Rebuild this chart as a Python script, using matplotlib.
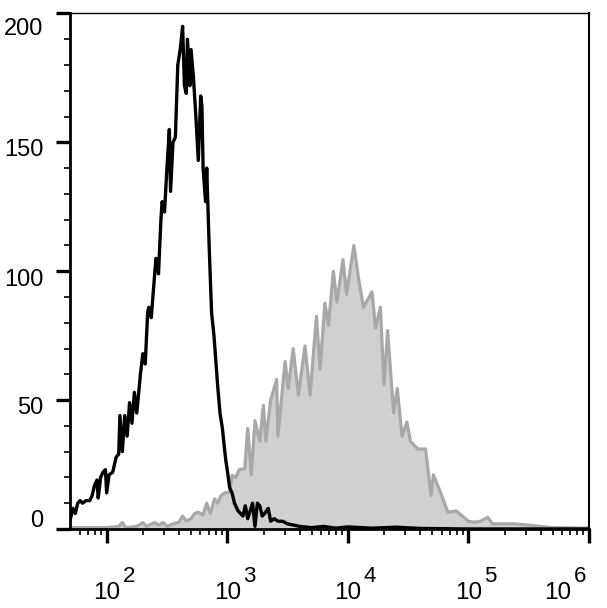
import numpy as np
import matplotlib
matplotlib.use("Agg")
import matplotlib.pyplot as plt
from matplotlib.ticker import LogLocator, MultipleLocator, NullFormatter

plt.rcParams["font.family"] = ["Liberation Sans", "DejaVu Sans"]

# black histogram (unstained / isotype), x given as log10 of intensity
black_log = [1.70, 1.72, 1.74, 1.76, 1.78, 1.80, 1.83, 1.86, 1.88, 1.90, 1.92, 1.93,
             1.95, 1.97, 1.99, 2.00, 2.02, 2.05, 2.08, 2.10, 2.11, 2.13, 2.15, 2.17,
             2.19, 2.21, 2.23, 2.25, 2.28, 2.30, 2.32, 2.34, 2.35, 2.37, 2.40, 2.41,
             2.43, 2.45, 2.46, 2.48, 2.50, 2.52, 2.53, 2.55, 2.57, 2.59, 2.61, 2.63,
             2.645, 2.66, 2.67, 2.69, 2.70, 2.72, 2.74, 2.76, 2.78, 2.79, 2.80, 2.82,
             2.83, 2.85, 2.87, 2.89, 2.92, 2.94, 2.96, 2.98, 2.99, 3.00, 3.02, 3.04,
             3.06, 3.09, 3.11, 3.13, 3.15, 3.17, 3.19, 3.21, 3.23, 3.25, 3.27, 3.29,
             3.31, 3.34, 3.36, 3.39, 3.42, 3.46, 3.50, 3.55, 3.60, 3.70, 3.80, 3.90,
             4.00, 4.20, 4.40, 4.60, 5.00, 5.50, 6.00]
black_counts = [4, 8, 6, 10, 11, 10, 11, 11, 13, 17, 19, 12,
                20, 22, 23, 14, 21, 22, 28, 29, 44, 30, 44, 36,
                49, 41, 53, 45, 60, 68, 64, 84, 86, 82, 100, 105,
                99, 120, 127, 123, 140, 155, 131, 150, 152, 180, 186, 195,
                172, 169, 190, 172, 186, 175, 160, 143, 168, 164, 140, 127,
                140, 110, 84, 75, 56, 45, 39, 30, 26, 23, 16, 14,
                10, 7, 6, 5, 9, 4, 7, 10, 1, 10, 9, 5,
                6, 8, 3, 4, 3, 3, 2, 1.5, 1, 0.5, 1, 0.3,
                0.8, 0.3, 0.7, 0.2, 0, 0, 0]

# gray filled histogram (stained)
gray_log = [1.70, 1.90, 2.00, 2.10, 2.13, 2.16, 2.25, 2.30, 2.33, 2.40, 2.43, 2.47,
            2.50, 2.55, 2.60, 2.63, 2.66, 2.70, 2.73, 2.76, 2.80, 2.83, 2.86, 2.895,
            2.92, 2.95, 2.98, 3.02, 3.04, 3.07, 3.10, 3.145, 3.17, 3.20, 3.23, 3.27,
            3.30, 3.32, 3.36, 3.41, 3.42, 3.48, 3.506, 3.547, 3.59, 3.645, 3.687, 3.74,
            3.77, 3.81, 3.84, 3.88, 3.91, 3.96, 3.99, 4.05, 4.09, 4.13, 4.20, 4.23,
            4.27, 4.30, 4.33, 4.38, 4.41, 4.45, 4.49, 4.52, 4.58, 4.645, 4.69, 4.71,
            4.77, 4.83, 4.90, 4.95, 5.00, 5.05, 5.10, 5.16, 5.20, 5.30, 5.38, 5.52,
            5.70, 6.00]
gray_counts = [0.5, 0.5, 0.5, 1, 2.5, 0.5, 1, 2.5, 1, 2.5, 1.5, 2.5,
               1, 2, 2.6, 5, 3, 4, 6, 6.5, 5.5, 10, 6, 11.7,
               10, 13, 14, 14.3, 20.8, 20, 23, 23.4, 39, 21, 42, 34,
               48, 34, 50, 58, 36, 65, 54.5, 70, 52, 71, 52, 82.5,
               62, 87.6, 79, 100, 88, 104.5, 91, 110, 97, 86, 92, 78,
               86, 56, 77, 45, 54.5, 36, 41.5, 34, 31, 31, 13, 21,
               14, 6.5, 7, 5, 3, 2.6, 3, 4.5, 2, 2, 2, 1.4,
               0.5, 0.3]

y_ticks = [0, 50, 100, 150, 200]
y_labels = ["0", "50", "100", "150", "200"]
y_label_shift = [8, -8, -9, -8, -16]   # pixel nudges seen in the original
x_decades = [2, 3, 4, 5, 6]

fig = plt.figure(figsize=(6.07, 6.08), dpi=100)
ax = fig.add_axes([0.1161, 0.130, 0.9703 - 0.1161, 0.9778 - 0.130])

gx = 10 ** np.array(gray_log)
bx = 10 ** np.array(black_log)
ax.fill_between(gx, gray_counts, 0, color="#d0d0d0", lw=0, zorder=1)
ax.plot(gx, gray_counts, color="#a8a8a8", lw=2.3, zorder=2)
ax.plot(bx, black_counts, color="black", lw=2.4, zorder=3)

ax.set_xscale("log")
ax.set_xlim(10 ** 1.7, 1e6)
ax.set_ylim(0, 200)

ax.xaxis.set_major_locator(LogLocator(base=10, numticks=20))
ax.xaxis.set_minor_locator(LogLocator(base=10, subs=np.arange(2, 10), numticks=100))
ax.xaxis.set_major_formatter(NullFormatter())
ax.xaxis.set_minor_formatter(NullFormatter())
ax.yaxis.set_major_locator(MultipleLocator(50))
ax.yaxis.set_minor_locator(MultipleLocator(10))
ax.yaxis.set_major_formatter(NullFormatter())

ax.tick_params(which="major", direction="out", length=10, width=2.4, color="black")
ax.tick_params(which="minor", direction="out", length=4.2, width=1.2, color="black")

ax.spines["left"].set_linewidth(2.0)
ax.spines["bottom"].set_linewidth(2.0)
ax.spines["top"].set_linewidth(1.0)
ax.spines["right"].set_linewidth(1.5)

# y labels, placed by hand to match the offsets of the original
for v, lab, dy in zip(y_ticks, y_labels, y_label_shift):
    ax.annotate(lab, xy=(0, v), xycoords=("axes fraction", "data"),
                xytext=(-27, dy), textcoords="offset pixels",
                ha="right", va="center", fontsize=17)

# x labels as 10 with a nearly full-size exponent
for d in x_decades:
    dx = -31 if d == 6 else 0
    ax.annotate("10", xy=(10 ** d, 0), xycoords=("data", "axes fraction"),
                xytext=(dx, -70), textcoords="offset pixels",
                ha="center", va="baseline", fontsize=17.5)
    ax.annotate(str(d), xy=(10 ** d, 0), xycoords=("data", "axes fraction"),
                xytext=(dx + 16, -53), textcoords="offset pixels",
                ha="left", va="baseline", fontsize=16)

fig.savefig("out.png", dpi=100)
